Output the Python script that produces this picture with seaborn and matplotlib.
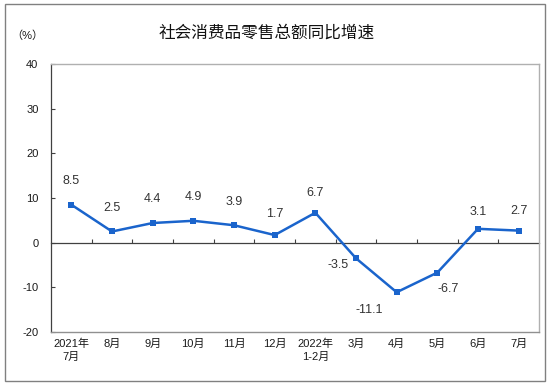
import numpy as np
import pandas as pd
import matplotlib
matplotlib.use('Agg')
import matplotlib.pyplot as plt
import seaborn as sns
from matplotlib.patches import Rectangle

# data
months = ['2021年\n7月', '8月', '9月', '10月', '11月', '12月', '2022年\n1-2月',
          '3月', '4月', '5月', '6月', '7月']
growth = [8.5, 2.5, 4.4, 4.9, 3.9, 1.7, 6.7, -3.5, -11.1, -6.7, 3.1, 2.7]
y_ticks = [-20, -10, 0, 10, 20, 30, 40]
title = '社会消费品零售总额同比增速'
unit = '（%）'

# label offsets in points (style only)
label_offsets = [(0, 17), (0, 17), (0, 17), (0, 17), (0, 17), (0, 15), (0, 14),
                 (-13, -5), (-20, -13), (8, -12), (0, 12), (0, 14)]

sns.set_theme(style='white')
plt.rcParams['font.family'] = ['Liberation Sans', 'Noto Sans CJK SC', 'DejaVu Sans']

df = pd.DataFrame({'pos': np.arange(len(months)), 'value': growth})

fig = plt.figure(figsize=(5.5, 3.86), dpi=100)
ax = fig.add_axes([51 / 550, 1 - 332 / 386, 488 / 550, 268 / 386])

line_color = '#1a64cc'
sns.lineplot(data=df, x='pos', y='value', ax=ax, color=line_color, linewidth=1.8,
             marker='s', markersize=5, markeredgewidth=0, markerfacecolor=line_color)

for x, v, off in zip(df['pos'], df['value'], label_offsets):
    ax.annotate(f'{v:.1f}', (x, v), xytext=off, textcoords='offset points',
                ha='center', va='center', fontsize=9, color='#333333')

ax.set_xlim(-0.5, len(months) - 0.5)
ax.set_ylim(-20, 40)
ax.set_yticks(y_ticks)
ax.set_yticklabels([str(t) for t in y_ticks])
ax.set_xticks(df['pos'])
ax.set_xticklabels(months, fontsize=8, color='#1a1a1a', linespacing=1.3,
                   fontweight='medium')
ax.tick_params(axis='x', length=0, pad=5)
ax.tick_params(axis='y', direction='in', length=3, width=0.8, color='#404040',
               labelsize=8, labelcolor='#1a1a1a', pad=9, left=True)
ax.set_xlabel('')
ax.set_ylabel('')
ax.grid(False)

for side in ['top', 'right']:
    ax.spines[side].set_color('#b0b0b0')
    ax.spines[side].set_linewidth(1.0)
ax.spines['bottom'].set_color('#909090')
ax.spines['bottom'].set_linewidth(1.0)
ax.spines['left'].set_color('#404040')
ax.spines['left'].set_linewidth(0.9)

# zero line with tick marks between categories
zero_ax = ax.secondary_xaxis(20 / 60)
zero_ax.set_xticks(np.arange(0.5, len(months) - 0.5, 1.0))
zero_ax.set_xticklabels([])
zero_ax.tick_params(axis='x', direction='in', length=3, width=0.8, color='#404040')
zero_ax.spines['bottom'].set_color('#404040')
zero_ax.spines['bottom'].set_linewidth(0.9)

fig.text(267 / 550, 1 - 33 / 386, title, ha='center', va='center', fontsize=12,
         color='#111111')
fig.text(27 / 550, 1 - 36 / 386, unit, ha='center', va='center', fontsize=8,
         color='#1a1a1a')

fig.patches.append(Rectangle((5 / 550, 1 - 381 / 386), 540 / 550, 377 / 386,
                             transform=fig.transFigure, fill=False,
                             edgecolor='#808080', linewidth=1.0))

fig.savefig('out.png', dpi=100)
